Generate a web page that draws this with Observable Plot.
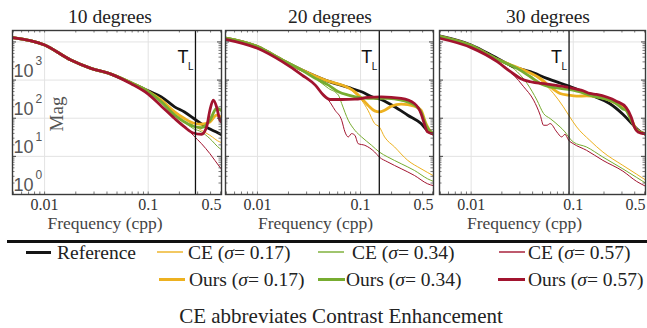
<!DOCTYPE html>
<html><head><meta charset="utf-8">
<script src="https://cdn.jsdelivr.net/npm/d3@7"></script>
<script src="https://cdn.jsdelivr.net/npm/@observablehq/plot@0.6"></script>
<style>
body{margin:0;background:#fff;}
#root{position:relative;width:647px;height:328px;overflow:hidden;background:#fff;font-family:"Liberation Serif",serif;color:#222;}
.abs{position:absolute;white-space:nowrap;}
</style></head><body><div id="root"></div>
<script>
// ---------- chart values ----------
const panelTitles = ["10 degrees", "20 degrees", "30 degrees"];
const tLimit = [0.286, 0.152, 0.091];           // T_L frequency per panel (cpp)
const xTicks = [0.01, 0.1];
const xTickLabels = ["0.01", "0.1"];
const xEndTick = [0.5];
const xEndTickLabel = ["0.5"];
const yTickExponents = [0, 1, 2, 3];
const seriesKeys = ["ce17", "ce34", "ce57", "ref", "ours17", "ours34", "ours57"];
const legendNames = ["Reference", "CE", "CE", "CE", "Ours", "Ours", "Ours"];
const legendSigma = [null, "0.17", "0.34", "0.57", "0.17", "0.34", "0.57"];
const xLabel = "Frequency (cpp)";
const yLabel = "Mag";
const caption = "CE abbreviates Contrast Enhancement";

// [frequency (cpp), magnitude]
// ---- 10 degrees ----
const p10_ref    = [[0.0049,13000],[0.01,8340],[0.0179,3360],[0.028,2030],[0.0437,1437],[0.0684,851],[0.1,524],[0.134,363],[0.18,199],[0.224,145],[0.286,92],[0.385,53.5],[0.45,44],[0.51,37]];
const p10_ours17 = [[0.0049,13000],[0.01,8340],[0.0179,3360],[0.028,2030],[0.0437,1437],[0.0684,851],[0.1,505],[0.134,298],[0.18,147],[0.224,98],[0.272,75],[0.327,69.5],[0.394,80],[0.457,120],[0.51,105]];
const p10_ours34 = [[0.0049,13000],[0.01,8340],[0.0179,3360],[0.028,2030],[0.0437,1437],[0.0684,851],[0.1,500],[0.134,268],[0.18,120],[0.224,80],[0.272,61.5],[0.327,57],[0.394,88.6],[0.457,180],[0.51,160]];
const p10_ours57 = [[0.0049,13000],[0.01,8340],[0.0179,3360],[0.028,2030],[0.0437,1437],[0.0684,800],[0.1,428],[0.134,207],[0.18,98],[0.224,59],[0.272,41],[0.327,38],[0.366,59],[0.394,162],[0.425,298],[0.457,199],[0.492,89],[0.51,79]];
const p10_ce17   = [[0.0049,13000],[0.01,8340],[0.0179,3360],[0.028,2030],[0.0437,1437],[0.0684,851],[0.1,505],[0.134,300],[0.18,150],[0.224,100],[0.272,65],[0.327,48.3],[0.394,35.7],[0.492,23.8],[0.51,23]];
const p10_ce34   = [[0.0049,13000],[0.01,8340],[0.0179,3360],[0.028,2030],[0.0437,1437],[0.0684,851],[0.1,500],[0.134,268],[0.18,120],[0.224,78],[0.272,53.5],[0.327,43.7],[0.394,29.2],[0.492,16],[0.51,15]];
const p10_ce57   = [[0.0049,13000],[0.01,8340],[0.0179,3360],[0.028,2030],[0.0437,1437],[0.0684,800],[0.1,428],[0.134,207],[0.18,98],[0.224,62],[0.272,35.7],[0.327,21.5],[0.394,11.8],[0.492,5.2],[0.51,4.6]];
// ---- 20 degrees ----
const p20_ref    = [[0.0049,12500],[0.01,7540],[0.0174,3360],[0.0271,1830],[0.0454,1000],[0.076,641],[0.1023,493],[0.137,343],[0.152,323],[0.214,199],[0.287,120],[0.386,72.4],[0.447,46.4],[0.51,38]];
const p20_ours17 = [[0.0049,12500],[0.01,7540],[0.0174,3360],[0.0271,1830],[0.0364,1275],[0.0454,1000],[0.076,630],[0.0881,493],[0.1023,330],[0.118,220],[0.137,156],[0.152,147],[0.171,162],[0.199,207],[0.248,234],[0.333,207],[0.386,162],[0.431,72.4],[0.482,43.7],[0.51,40]];
const p20_ours34 = [[0.0049,12500],[0.01,7540],[0.0174,3360],[0.0271,1800],[0.0364,1107],[0.0489,738],[0.061,493],[0.076,403],[0.1023,343],[0.137,330],[0.184,330],[0.248,298],[0.333,220],[0.386,147],[0.431,65.4],[0.51,39]];
const p20_ours57 = [[0.0049,11750],[0.01,6810],[0.0174,3040],[0.0271,1355],[0.0364,738],[0.0437,403],[0.0507,310],[0.0656,310],[0.0881,316],[0.118,350],[0.159,364],[0.248,330],[0.333,243],[0.386,133],[0.415,72.4],[0.447,43.7],[0.51,39]];
const p20_ce17   = [[0.0049,12500],[0.01,7540],[0.0174,3360],[0.0271,1830],[0.0454,1000],[0.076,630],[0.0881,446],[0.1023,298],[0.118,162],[0.137,72.4],[0.152,59.1],[0.171,32.3],[0.214,17.6],[0.287,7.85],[0.386,4.74],[0.51,3.1]];
const p20_ce34   = [[0.0049,12500],[0.01,7540],[0.0174,3360],[0.0271,1800],[0.0364,1107],[0.0489,604],[0.061,403],[0.0656,243],[0.076,88.6],[0.0881,48.3],[0.1023,32.3],[0.128,19.5],[0.152,13.0],[0.184,9.6],[0.248,6.4],[0.333,4.28],[0.447,2.58],[0.51,2.2]];
const p20_ce57   = [[0.0049,11750],[0.01,6810],[0.0174,3040],[0.0271,1355],[0.0364,738],[0.0422,446],[0.0489,298],[0.0566,162],[0.0656,88.6],[0.0706,43.7],[0.076,32.3],[0.0819,39.5],[0.0881,35.7],[0.0949,21.5],[0.11,19.5],[0.137,13.0],[0.152,9.6],[0.184,7.1],[0.248,4.74],[0.333,3.16],[0.447,1.91],[0.51,1.7]];
// ---- 30 degrees ----
const p30_ref    = [[0.0049,14400],[0.01,8340],[0.018,3720],[0.0261,2240],[0.038,1660],[0.0552,1107],[0.0902,695],[0.125,493],[0.16,370],[0.227,243],[0.306,127],[0.383,68],[0.445,46],[0.51,38]];
const p30_ours17 = [[0.0049,14000],[0.01,8020],[0.018,3500],[0.0327,1830],[0.0475,1107],[0.0594,668],[0.0743,446],[0.0902,403],[0.108,379],[0.135,387],[0.169,370],[0.264,243],[0.33,169],[0.369,98],[0.418,50],[0.51,39]];
const p30_ours34 = [[0.0049,14000],[0.01,8020],[0.018,3500],[0.0282,2030],[0.038,1224],[0.0475,817],[0.064,641],[0.0902,568],[0.125,464],[0.145,403],[0.169,364],[0.264,243],[0.306,175],[0.33,160],[0.369,88.6],[0.418,48.3],[0.51,39]];
const p30_ours57 = [[0.0049,12500],[0.01,7100],[0.018,3040],[0.0243,1660],[0.0304,1107],[0.038,903],[0.0552,785],[0.0902,641],[0.125,524],[0.145,447],[0.169,420],[0.264,280],[0.33,190],[0.369,108],[0.397,59],[0.43,43.7],[0.51,39]];
const p30_ce17   = [[0.0049,14000],[0.01,8020],[0.018,3500],[0.0327,1830],[0.0475,1000],[0.064,446],[0.08,199],[0.0902,120],[0.108,59.1],[0.145,26.4],[0.195,13.0],[0.306,5.8],[0.418,3.4],[0.51,2.4]];
const p30_ce34   = [[0.0049,14000],[0.01,8020],[0.018,3500],[0.0282,1660],[0.0353,817],[0.0441,298],[0.0512,133],[0.0594,98],[0.0743,59.1],[0.083,43.7],[0.0902,32.3],[0.1,23.8],[0.135,17.6],[0.195,9.6],[0.306,4.7],[0.418,2.8],[0.51,2.0]];
const p30_ce57   = [[0.0049,12500],[0.01,7100],[0.018,3040],[0.0261,1355],[0.0327,668],[0.0409,298],[0.0475,120],[0.0512,65.4],[0.0552,65.4],[0.0594,72.4],[0.069,43.7],[0.0771,32.3],[0.083,37.9],[0.0902,26.4],[0.1,21.5],[0.135,14.4],[0.195,7.85],[0.306,4.1],[0.418,2.2],[0.51,1.65]];

// ---------- styles ----------
const seriesColor = {ref:"#151515", ce17:"#EDB120", ce34:"#77AC30", ce57:"#A2142F", ours17:"#EDB120", ours34:"#77AC30", ours57:"#A2142F"};
const seriesWidth = {ref:2.8, ce17:1, ce34:1, ce57:1, ours17:2.8, ours34:2.8, ours57:2.8};
const legendKeys = ["ref","ce17","ce34","ce57","ours17","ours34","ours57"];

const panelData = [
  {ref:p10_ref, ce17:p10_ce17, ce34:p10_ce34, ce57:p10_ce57, ours17:p10_ours17, ours34:p10_ours34, ours57:p10_ours57},
  {ref:p20_ref, ce17:p20_ce17, ce34:p20_ce34, ce57:p20_ce57, ours17:p20_ours17, ours34:p20_ours34, ours57:p20_ours57},
  {ref:p30_ref, ce17:p30_ce17, ce34:p30_ce34, ce57:p30_ce57, ours17:p30_ours17, ours34:p30_ours34, ours57:p30_ours57}
];

// ---------- layout ----------
const xDomain = [0.0049, 0.51];
const yDomain = [1, 19953];
const svgBox = [[0,223,12,2],[223,213,2,3],[436,211,3,2]]; // left, width, marginLeft, marginRight
const H = 236, MT = 30, MB = 42;
const titleCenters = [110, 330, 548];
const xLabelShift = [-12, -14, -18];

const yMajor = [1,10,100,1000,10000];
const yMinor = [];
for (let k = 0; k < 5; k++) for (let m = 2; m <= 9; m++) { const v = m * 10 ** k; if (v < yDomain[1]) yMinor.push(v); }
const xMinor = [];
for (let k = -3; k <= -1; k++) for (let m = 1; m <= 9; m++) { const v = m * 10 ** k; if (v > xDomain[0] && v < xDomain[1]) xMinor.push(v); }

const root = document.getElementById("root");
const serif = "Liberation Serif";
const sans = "Liberation Sans";

panelData.forEach((series, i) => {
  const [left, W, ml, mr] = svgBox[i];
  const fw = W - ml - mr, fh = H - MT - MB;
  const marks = [
    Plot.ruleY([10,100,1000,10000], {stroke:"#e3e3e3", strokeWidth:1}),
    Plot.ruleX([0.01,0.1], {stroke:"#e3e3e3", strokeWidth:1}),
    ...seriesKeys.map(k => Plot.line(series[k], {x: d => d[0], y: d => d[1], stroke: seriesColor[k], strokeWidth: seriesWidth[k], curve: "monotone-x", clip: true})),
    Plot.ruleX([tLimit[i]], {stroke:"#111", strokeWidth:1.3}),
    Plot.text([tLimit[i]], {x: d => d, text: () => "T", frameAnchor:"top", textAnchor:"end", lineAnchor:"top", dx:-7, dy:20, fontFamily:sans, fontSize:18, fill:"#111"}),
    Plot.text([tLimit[i]], {x: d => d, text: () => "L", frameAnchor:"top", textAnchor:"end", lineAnchor:"top", dx:-2, dy:32, fontFamily:sans, fontSize:10, fill:"#111"}),
    Plot.tickY(yMinor, {insetRight: fw - 2.5, stroke:"#555", strokeWidth:0.8}),
    Plot.tickY(yMinor, {insetLeft: fw - 2.5, stroke:"#555", strokeWidth:0.8}),
    Plot.tickY(yMajor, {insetRight: fw - 4, stroke:"#444", strokeWidth:1}),
    Plot.tickY(yMajor, {insetLeft: fw - 4, stroke:"#444", strokeWidth:1}),
    Plot.tickX(xMinor, {insetBottom: fh - 2.5, stroke:"#555", strokeWidth:0.8}),
    Plot.tickX(xMinor, {insetTop: fh - 2.5, stroke:"#555", strokeWidth:0.8}),
    Plot.frame({stroke:"#3a3a3a", strokeWidth:1.4}),
    Plot.axisX({ticks: xTicks, tickFormat: d => xTickLabels[xTicks.indexOf(d)], tickSize:0, tickPadding:4, fontSize:16, fontFamily:serif, fill:"#333", label:null}),
    Plot.axisX({ticks: xEndTick, tickFormat: () => xEndTickLabel[0], tickSize:0, tickPadding:4, textAnchor:"end", dx:1, fontSize:16, fontFamily:serif, fill:"#333", label:null}),
    Plot.text([xLabel], {text: d => d, frameAnchor:"bottom", dx: xLabelShift[i], dy:29, lineAnchor:"middle", fontSize:17.5, fontFamily:serif, fill:"#444"})
  ];
  if (i === 0) {
    marks.push(
      Plot.text(yTickExponents, {y: d => 10 ** d, text: () => "10", frameAnchor:"left", textAnchor:"start", lineAnchor:"middle", dx:1, dy:-9, fontFamily:sans, fontSize:18, fill:"#555"}),
      Plot.text(yTickExponents, {y: d => 10 ** d, text: d => String(d), frameAnchor:"left", textAnchor:"start", lineAnchor:"middle", dx:23, dy:-19, fontFamily:sans, fontSize:12, fill:"#555"})
    );
  }
  const svg = Plot.plot({
    width: W, height: H, marginTop: MT, marginBottom: MB, marginLeft: ml, marginRight: mr,
    x: {type:"log", domain: xDomain},
    y: {type:"log", domain: yDomain, axis: null},
    style: {background:"transparent", overflow:"visible", fontFamily: serif, fontSize:"16px", color:"#333"},
    marks
  });
  svg.style.position = "absolute";
  svg.style.left = left + "px";
  svg.style.top = "0px";
  root.appendChild(svg);

  const t = document.createElement("div");
  t.className = "abs";
  t.textContent = panelTitles[i];
  Object.assign(t.style, {left: titleCenters[i] + "px", top: "5px", transform: "translateX(-50%)", fontSize: "19.5px", lineHeight: "24px", color: "#222"});
  root.appendChild(t);
});

const mag = document.createElement("div");
mag.className = "abs";
mag.textContent = yLabel;
Object.assign(mag.style, {left: "57px", top: "114px", transform: "translate(-50%,-50%) rotate(-90deg)", fontSize: "19px", lineHeight: "20px", color: "#555"});
root.appendChild(mag);

const sep = document.createElement("div");
sep.className = "abs";
Object.assign(sep.style, {left: "7px", top: "240px", width: "640px", height: "3px", background: "#111"});
root.appendChild(sep);

const legendLayout = [
  {row:0, line:[26,51], text:57},
  {row:0, line:[157,183], text:188},
  {row:0, line:[318,344], text:352},
  {row:0, line:[499,525], text:528},
  {row:1, line:[159,185], text:189},
  {row:1, line:[318,345], text:346},
  {row:1, line:[498,525], text:528}
];
const rowLineY = [252, 279], rowTextTop = [241, 268];
legendKeys.forEach((k, j) => {
  const L = legendLayout[j];
  const sw = document.createElement("div");
  sw.className = "abs";
  const th = seriesWidth[k] > 2 ? 3 : 1.5;
  Object.assign(sw.style, {left: L.line[0] + "px", top: (rowLineY[L.row] - th / 2) + "px", width: (L.line[1] - L.line[0]) + "px", height: th + "px", background: seriesColor[k], opacity: th > 2 ? 1 : 0.7});
  root.appendChild(sw);
  const tx = document.createElement("div");
  tx.className = "abs";
  tx.innerHTML = legendSigma[j] ? `${legendNames[j]} (<i>σ</i>= ${legendSigma[j]})` : legendNames[j];
  Object.assign(tx.style, {left: L.text + "px", top: rowTextTop[L.row] + "px", fontSize: "19.5px", lineHeight: "24px", color: "#222"});
  root.appendChild(tx);
});

const cap = document.createElement("div");
cap.className = "abs";
cap.textContent = caption;
Object.assign(cap.style, {left: "341px", top: "304px", transform: "translateX(-50%)", fontSize: "21px", lineHeight: "24px", color: "#222"});
root.appendChild(cap);
</script></body></html>
